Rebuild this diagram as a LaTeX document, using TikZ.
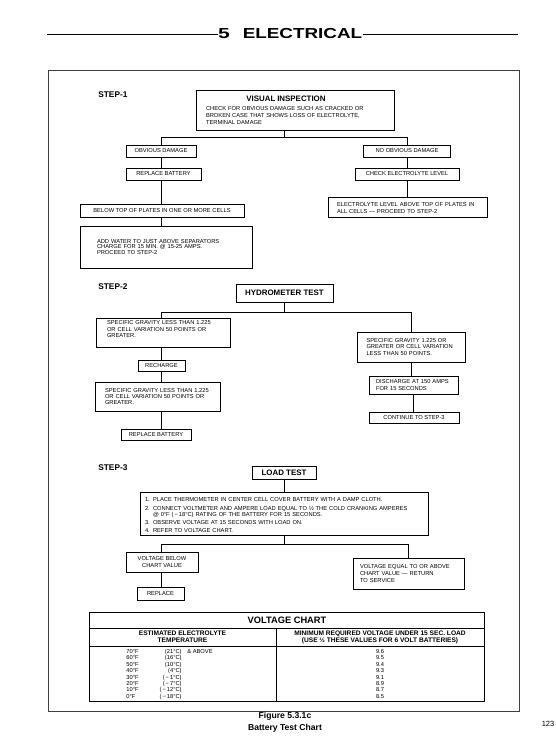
\documentclass[tikz,border=0pt]{standalone}
\usepackage{fontspec}
\setmainfont{Liberation Sans}
\usepackage{graphicx}
\newcommand{\padbelow}[1]{\rule[-#1]{0pt}{0pt}}
\newcommand{\padabove}[1]{\rule{0pt}{#1}}
\newcommand{\numitem}[1]{\makebox[8pt][l]{#1}}
\begin{document}
\begin{tikzpicture}[x=1pt, y=-1pt, line width=0.75pt,
    box/.style={draw, inner sep=0pt, font=\fontsize{5.75}{6.3}\selectfont},
    note/.style={box, align=left},
    headbox/.style={box, font=\fontsize{7.9}{8}\selectfont\bfseries},
    steplbl/.style={anchor=west, inner sep=0pt, font=\fontsize{8.3}{9}\selectfont\bfseries},
    cell/.style={inner sep=0pt, font=\fontsize{5.75}{6.3}\selectfont},
    colhead/.style={inner sep=0pt, align=center, font=\fontsize{6.6}{7.2}\selectfont\bfseries}]
    \useasboundingbox (0,0) rectangle (556,749);
    \coordinate (spine) at (161,0);
    \coordinate (mid) at (284,0);

    \node[inner sep=0pt, font=\fontsize{14.5}{15}\selectfont\bfseries] (five) at (224,34) {\scalebox{1.45}[1]{5}};
    \node[inner sep=0pt, font=\fontsize{14.5}{15}\selectfont\bfseries] (electrical) at (302.5,34) {\scalebox{1.3}[1]{ELECTRICAL}};
    \coordinate (rulel) at (47,34);
    \coordinate (ruler) at (518,34);
    \draw (rulel) -- (rulel -| five.west);
    \draw (electrical.east |- ruler) -- (ruler);
    \draw[black!75] (48,70) rectangle (519,711);

    \node[steplbl] (step1) at (98,95) {STEP-1};
    \node[note, text width=178pt, inner xsep=10pt, minimum height=40pt, font=\fontsize{5.75}{6.8}\selectfont] (visual) at (295,110)
        {\makebox[160pt]{\fontsize{7.9}{8}\selectfont\bfseries VISUAL INSPECTION}\\[2.2pt]
         CHECK FOR OBVIOUS DAMAGE SUCH AS CRACKED OR\\
         BROKEN CASE THAT SHOWS LOSS OF ELECTROLYTE,\\
         TERMINAL DAMAGE};
    \node[box, minimum width=70pt, minimum height=12pt] (obvious) at (161,151) {OBVIOUS DAMAGE};
    \node[box, minimum width=87pt, minimum height=12pt] (noobvious) at (407,151) {NO OBVIOUS DAMAGE};
    \node[box, minimum width=75pt, minimum height=12pt] (replace1) at (163.5,174) {REPLACE BATTERY};
    \node[box, minimum width=104pt, minimum height=12pt] (checklevel) at (407,174) {CHECK ELECTROLYTE LEVEL};
    \node[box, minimum width=164pt, minimum height=13pt] (below) at (162,210.5) {BELOW TOP OF PLATES IN ONE OR MORE CELLS};
    \node[note, text width=141pt, inner xsep=9pt, minimum height=20pt] (levelok) at (407.5,207)
        {\padabove{6pt}ELECTROLYTE LEVEL ABOVE TOP OF PLATES IN\\ ALL CELLS — PROCEED TO STEP-2};
    \node[note, text width=138pt, inner xsep=17pt, minimum height=42pt, font=\fontsize{5.75}{5.8}\selectfont] (addwater) at (166,247)
        {ADD WATER TO JUST ABOVE SEPARATORS\\ CHARGE FOR 15 MIN. @ 15-25 AMPS.\\ PROCEED TO STEP-2};

    \coordinate (bar1) at (0,137);
    \draw (visual.south -| mid) -- (mid |- bar1);
    \draw (obvious.north -| spine) |- (noobvious.north |- bar1) -- (noobvious.north);
    \draw (obvious.south -| spine) -- (replace1.north -| spine);
    \draw (replace1.south -| spine) -- (below.north -| spine);
    \draw (below.south -| spine) -- (addwater.north -| spine);
    \draw (noobvious.south) -- (noobvious.south |- checklevel.north);
    \draw (checklevel.south) -- (checklevel.south |- levelok.north);

    \node[steplbl] (step2) at (98,287) {STEP-2};
    \node[headbox, minimum width=97pt, minimum height=18pt] (hydro) at (284.5,293) {HYDROMETER TEST};
    \node[note, text width=112pt, inner xsep=11pt, minimum height=29pt] (sglow) at (163,332.5)
        {SPECIFIC GRAVITY LESS THAN 1.225\\ OR CELL VARIATION 50 POINTS OR\\ GREATER.\padbelow{7pt}};
    \node[note, text width=90pt, inner xsep=9pt, minimum height=30pt] (sghigh) at (411.5,347)
        {SPECIFIC GRAVITY 1.225 OR\\ GREATER OR CELL VARIATION\\ LESS THAN 50 POINTS.};
    \node[box, minimum width=47pt, minimum height=11pt] (recharge) at (161.5,365.5) {RECHARGE};
    \node[note, text width=105pt, inner xsep=10pt, minimum height=29pt] (sglow2) at (157.5,396.5)
        {SPECIFIC GRAVITY LESS THAN 1.225\\ OR CELL VARIATION 50 POINTS OR\\ GREATER.};
    \node[box, minimum width=70pt, minimum height=11pt] (replace2) at (156,434.5) {REPLACE BATTERY};
    \node[note, text width=75pt, inner xsep=7pt, minimum height=18pt] (discharge) at (413.5,385)
        {DISCHARGE AT 150 AMPS\\ FOR 15 SECONDS};
    \node[box, minimum width=90pt, minimum height=11pt] (continue) at (414,417.5) {CONTINUE TO STEP-3};

    \coordinate (bar2) at (0,312);
    \draw (hydro.south) -- (hydro.south |- bar2);
    \draw (sglow.north -| spine) |- (sghigh.north |- bar2) -- (sghigh.north);
    \draw (sglow.south -| spine) -- (recharge.north -| spine);
    \draw (recharge.south -| spine) -- (sglow2.north -| spine);
    \draw (sglow2.south -| spine) -- (replace2.north -| spine);
    \draw (sghigh.south) -- (sghigh.south |- discharge.north);
    \draw (discharge.south) -- (discharge.south |- continue.north);

    \node[steplbl] (step3) at (98,468) {STEP-3};
    \node[headbox, minimum width=64pt, minimum height=13pt] (load) at (284,473) {LOAD TEST};
    \node[note, text width=278pt, inner xsep=5pt, minimum height=43pt, font=\fontsize{5.75}{6}\selectfont] (steps) at (284,513.5)
        {\padabove{8pt}\numitem{1.}PLACE THERMOMETER IN CENTER CELL COVER BATTERY WITH A DAMP CLOTH.\\[2.6pt]
         \numitem{2.}CONNECT VOLTMETER AND AMPERE LOAD EQUAL TO ½ THE COLD CRANKING AMPERES\\
         \numitem{}@ 0°F (\,−\,18°C) RATING OF THE BATTERY FOR 15 SECONDS.\\[2.2pt]
         \numitem{3.}OBSERVE VOLTAGE AT 15 SECONDS WITH LOAD ON.\\[2.2pt]
         \numitem{4.}REFER TO VOLTAGE CHART.};
    \node[box, align=center, minimum width=72pt, minimum height=20pt] (vbelow) at (162,562) {VOLTAGE BELOW\\ CHART VALUE};
    \node[note, text width=97pt, inner xsep=7pt, minimum height=31pt, font=\fontsize{5.75}{6.6}\selectfont] (vabove) at (408.5,573.5)
        {VOLTAGE EQUAL TO OR ABOVE\\ CHART VALUE — RETURN\\ TO SERVICE};
    \node[box, minimum width=47pt, minimum height=13pt] (replace3) at (160.5,593.5) {REPLACE};

    \coordinate (bar3) at (0,544);
    \draw (load.south -| mid) -- (mid |- steps.north);
    \draw (steps.south -| mid) -- (mid |- bar3);
    \draw (vbelow.north -| spine) |- (vabove.north |- bar3) -- (vabove.north);
    \draw (vbelow.south -| spine) -- (replace3.north -| spine);

    \node[draw, inner sep=0pt, minimum width=395pt, minimum height=89pt] (chart) at (286.5,656.5) {};
    \coordinate (hline1) at (0,628);
    \coordinate (hline2) at (0,646);
    \coordinate (vdiv) at (276,0);
    \draw (chart.west |- hline1) -- (chart.east |- hline1);
    \draw (chart.west |- hline2) -- (chart.east |- hline2);
    \draw (vdiv |- hline1) -- (vdiv |- chart.south);
    \node[inner sep=0pt, font=\fontsize{9.3}{10}\selectfont\bfseries] (charttitle) at (287,620.5) {VOLTAGE CHART};
    \node[colhead] (temphead) at (182.5,637) {ESTIMATED ELECTROLYTE\\ TEMPERATURE};
    \node[colhead] (volthead) at (380,637) {MINIMUM REQUIRED VOLTAGE UNDER 15 SEC. LOAD\\ (USE ½ THESE VALUES FOR 6 VOLT BATTERIES)};
    \foreach \tf/\tc/\tv [count=\i] in {70°F/(21°C)/9.6, 60°F/(16°C)/9.5, 50°F/(10°C)/9.4, 40°F/(4°C)/9.3,
        30°F/(\,−\,1°C)/9.1, 20°F/(\,−\,7°C)/8.9, 10°F/(\,−\,12°C)/8.7, 0°F/(\,−\,18°C)/8.5} {
        \node[cell, anchor=base west] (tf\i) at (126,647.1+6.4*\i) {\tf};
        \node[cell, anchor=base east] (tc\i) at (182,647.1+6.4*\i) {\tc};
        \node[cell, anchor=base] (tv\i) at (380,647.1+6.4*\i) {\tv};
    }
    \node[cell, anchor=base west] (tabove) at (187,653.5) {\& ABOVE};

    \node[align=center, inner sep=0pt, font=\fontsize{8.6}{12}\selectfont\bfseries] (caption) at (285,722) {Figure 5.3.1c\\ Battery Test Chart};
    \node[inner sep=0pt, font=\fontsize{7.5}{8}\selectfont] (pageno) at (548,724) {123};
\end{tikzpicture}
\end{document}
